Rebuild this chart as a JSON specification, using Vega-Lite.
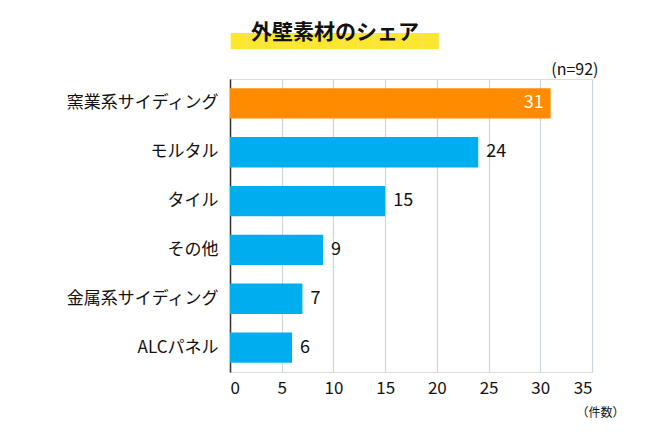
{
  "$schema": "https://vega.github.io/schema/vega-lite/v6.json",
  "width": 362,
  "height": 293,
  "autosize": "none",
  "padding": {"left": 230, "top": 79, "right": 78, "bottom": 68},
  "background": "white",
  "title": {
    "text": "█████████████",
    "subtitle": "外壁素材のシェア",
    "color": "#FCE62E",
    "font": "Noto Sans CJK JP",
    "fontSize": 16,
    "subtitleColor": "#111111",
    "subtitleFont": "Noto Sans CJK JP",
    "subtitleFontSize": 21,
    "subtitleFontWeight": "bold",
    "subtitlePadding": -28,
    "anchor": "middle",
    "frame": "group",
    "dx": -76,
    "offset": -1
  },
  "data": {
    "values": [
      {"material": "窯業系サイディング", "count": 31, "group": "top"},
      {"material": "モルタル", "count": 24, "group": "rest"},
      {"material": "タイル", "count": 15, "group": "rest"},
      {"material": "その他", "count": 9, "group": "rest"},
      {"material": "金属系サイディング", "count": 7, "group": "rest"},
      {"material": "ALCパネル", "count": 6, "group": "rest"}
    ]
  },
  "encoding": {
    "y": {
      "field": "material",
      "type": "nominal",
      "sort": null,
      "scale": {"paddingInner": 0.38, "paddingOuter": 0.19},
      "axis": {
        "title": null,
        "labelFont": "Noto Sans CJK JP",
        "labelFontSize": 17,
        "labelFontWeight": "normal",
        "labelColor": "#111111",
        "labelPadding": 12,
        "ticks": false,
        "domainColor": "#333333",
        "domainWidth": 1.5
      }
    }
  },
  "layer": [
    {
      "mark": {"type": "bar"},
      "encoding": {
        "x": {
          "field": "count",
          "type": "quantitative",
          "scale": {"domain": [0, 35], "nice": false},
          "axis": {
            "orient": "bottom",
            "values": [0, 5, 10, 15, 20, 25, 30, 35],
            "grid": true,
            "gridColor": "#c9d7e1",
            "gridWidth": 1.2,
            "domain": false,
            "ticks": false,
            "labelFont": "Noto Sans CJK JP",
            "labelFontSize": 17,
            "labelColor": "#111111",
            "labelPadding": 8,
            "title": "（件数）",
            "titleFont": "Noto Sans CJK JP",
            "titleFontSize": 12,
            "titleFontWeight": "normal",
            "titleColor": "#111111",
            "titleX": 370,
            "titleY": 35
          }
        },
        "color": {
          "field": "group",
          "type": "nominal",
          "scale": {"domain": ["top", "rest"], "range": ["#FF8C00", "#00AEEF"]},
          "legend": null
        }
      }
    },
    {
      "transform": [{"filter": "datum.group === 'rest'"}],
      "mark": {"type": "text", "align": "left", "dx": 8, "fontSize": 18, "font": "Noto Sans CJK JP", "color": "#111111"},
      "encoding": {
        "x": {
          "field": "count",
          "type": "quantitative",
          "axis": {
            "orient": "top",
            "labels": false,
            "ticks": false,
            "domain": false,
            "grid": false,
            "title": "(n=92)",
            "titleFont": "Noto Sans CJK JP",
            "titleFontSize": 16,
            "titleFontWeight": "normal",
            "titleColor": "#111111",
            "titleX": 368,
            "titleAlign": "right",
            "titlePadding": 2
          }
        },
        "text": {"field": "count", "type": "quantitative"}
      }
    },
    {
      "transform": [{"filter": "datum.group === 'top'"}],
      "mark": {"type": "text", "align": "right", "dx": -7, "fontSize": 18, "font": "Noto Sans CJK JP", "color": "white"},
      "encoding": {
        "x": {"field": "count", "type": "quantitative", "axis": null},
        "text": {"field": "count", "type": "quantitative"}
      }
    }
  ],
  "resolve": {"axis": {"x": "independent"}}
}
